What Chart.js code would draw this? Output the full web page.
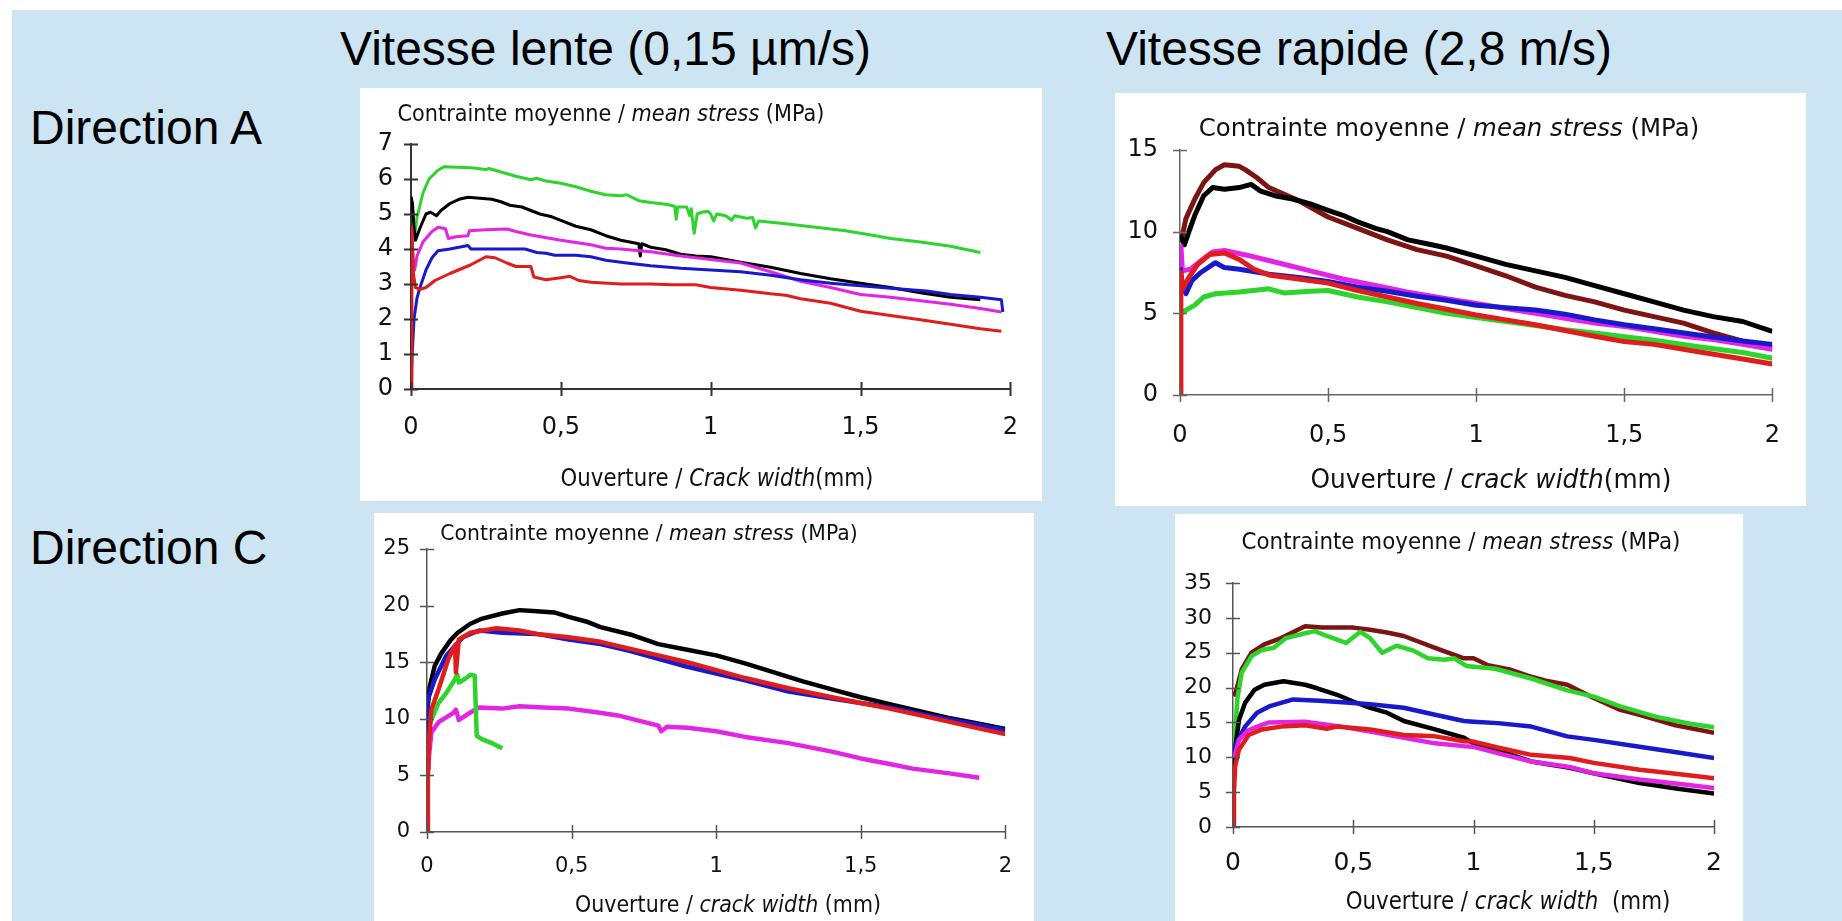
<!DOCTYPE html>
<html>
<head>
<meta charset="utf-8">
<script src="https://cdn.jsdelivr.net/npm/chart.js@4.4.1/dist/chart.umd.min.js"></script>
<style>
  html, body { margin: 0; padding: 0; }
  body { width: 1842px; height: 921px; background: #fff; position: relative; overflow: hidden;
         font-family: "Liberation Sans", Arial, sans-serif; }
  #bg { position: absolute; left: 12px; top: 10px; right: 0; bottom: 0; background: #cde4f3; }
  .panel { position: absolute; background: #fff; }
  .panel canvas { position: absolute; left: 0; top: 0; }
  .head { position: absolute; font-size: 48px; line-height: 1; white-space: nowrap; color: #000; }
  .ct { position: absolute; white-space: nowrap; font-family: "DejaVu Sans", sans-serif; color: #111;
        line-height: 1; transform-origin: center; }
</style>
</head>
<body>
<div id="bg"></div>
<div class="head" style="left:340px;top:25px">Vitesse lente (0,15 µm/s)</div>
<div class="head" style="left:1106px;top:25px">Vitesse rapide (2,8 m/s)</div>
<div class="head" style="left:30px;top:104px">Direction A</div>
<div class="head" style="left:30px;top:524px">Direction C</div>
<div id="charts"></div>

<script>
// ── Tick values ───────────────────────────────────────────
const xTicks      = [0, 0.5, 1, 1.5, 2];
const yTicksSlowA = [0, 1, 2, 3, 4, 5, 6, 7];
const yTicksFastA = [0, 5, 10, 15];
const yTicksSlowC = [0, 5, 10, 15, 20, 25];
const yTicksFastC = [0, 5, 10, 15, 20, 25, 30, 35];

// ── Direction A, slow (crack width mm, stress MPa) ───────
const slowA_green = [[0.005,4.6],[0.012,4.35],[0.02,4.9],[0.04,5.6],[0.06,6.0],[0.09,6.25],[0.11,6.35],[0.2,6.32],[0.25,6.27],[0.26,6.3],[0.3,6.2],[0.35,6.08],[0.4,5.98],[0.42,6.02],[0.45,5.94],[0.5,5.88],[0.55,5.78],[0.6,5.65],[0.65,5.55],[0.7,5.52],[0.72,5.55],[0.76,5.38],[0.8,5.33],[0.85,5.28],[0.88,5.22],[0.885,4.85],[0.89,5.2],[0.92,5.2],[0.93,4.95],[0.935,5.15],[0.945,4.45],[0.955,5.0],[0.97,5.05],[0.99,5.08],[1.0,5.0],[1.01,4.8],[1.02,5.0],[1.05,4.95],[1.07,4.82],[1.08,4.95],[1.12,4.88],[1.14,4.9],[1.15,4.6],[1.16,4.8],[1.25,4.72],[1.35,4.62],[1.45,4.52],[1.55,4.38],[1.6,4.3],[1.7,4.2],[1.8,4.08],[1.9,3.9]];
const slowA_black = [[0,5.5],[0.005,5.3],[0.01,4.6],[0.015,4.25],[0.03,4.6],[0.05,5.0],[0.065,5.05],[0.085,4.95],[0.1,5.1],[0.13,5.3],[0.16,5.42],[0.19,5.48],[0.23,5.45],[0.27,5.42],[0.3,5.35],[0.33,5.25],[0.37,5.2],[0.4,5.1],[0.43,5.0],[0.47,4.92],[0.5,4.82],[0.55,4.65],[0.6,4.55],[0.65,4.38],[0.7,4.25],[0.76,4.15],[0.765,3.8],[0.77,4.15],[0.8,4.05],[0.85,3.98],[0.9,3.85],[0.95,3.8],[1.0,3.78],[1.1,3.62],[1.2,3.48],[1.3,3.3],[1.4,3.15],[1.5,3.02],[1.6,2.9],[1.7,2.75],[1.8,2.62],[1.9,2.55]];
const slowA_magenta = [[0.002,4.6],[0.008,3.6],[0.012,3.4],[0.02,3.8],[0.04,4.2],[0.07,4.5],[0.09,4.62],[0.115,4.58],[0.125,4.3],[0.15,4.35],[0.19,4.38],[0.195,4.52],[0.25,4.55],[0.32,4.57],[0.35,4.5],[0.4,4.4],[0.5,4.25],[0.6,4.12],[0.65,4.02],[0.7,4.0],[0.8,3.92],[0.9,3.8],[1.0,3.7],[1.1,3.6],[1.2,3.35],[1.3,3.08],[1.4,2.9],[1.5,2.7],[1.6,2.62],[1.7,2.52],[1.8,2.42],[1.9,2.3],[1.97,2.2]];
const slowA_blue = [[0,0],[0.004,1.0],[0.01,2.0],[0.02,2.6],[0.03,2.9],[0.05,3.4],[0.07,3.75],[0.09,3.95],[0.13,4.0],[0.19,4.1],[0.2,4.0],[0.3,4.0],[0.38,4.0],[0.42,3.9],[0.45,3.88],[0.48,3.82],[0.55,3.82],[0.6,3.78],[0.65,3.68],[0.72,3.6],[0.8,3.52],[0.9,3.45],[1.0,3.4],[1.1,3.35],[1.2,3.25],[1.3,3.12],[1.4,3.02],[1.5,2.95],[1.6,2.88],[1.72,2.8],[1.8,2.7],[1.9,2.62],[1.97,2.55],[1.975,2.2]];
const slowA_red = [[0,0],[0.003,4.6],[0.008,3.3],[0.015,2.9],[0.03,2.85],[0.05,2.9],[0.08,3.1],[0.13,3.3],[0.2,3.55],[0.25,3.78],[0.28,3.75],[0.32,3.6],[0.35,3.5],[0.4,3.5],[0.41,3.2],[0.45,3.12],[0.5,3.18],[0.53,3.22],[0.56,3.1],[0.6,3.05],[0.7,3.0],[0.8,3.0],[0.87,2.98],[0.95,2.98],[1.0,2.9],[1.1,2.82],[1.2,2.72],[1.25,2.68],[1.3,2.58],[1.4,2.45],[1.5,2.22],[1.6,2.1],[1.7,1.98],[1.8,1.85],[1.9,1.72],[1.97,1.65]];

// ── Direction A, fast ─────────────────────────────────────
const fastA_maroon = [[0.005,9.5],[0.02,10.8],[0.05,12.0],[0.08,13.0],[0.12,13.8],[0.15,14.1],[0.2,14.0],[0.22,13.8],[0.26,13.3],[0.3,12.7],[0.35,12.3],[0.4,11.9],[0.45,11.4],[0.5,10.9],[0.6,10.2],[0.7,9.5],[0.8,8.9],[0.9,8.5],[1.0,7.9],[1.1,7.3],[1.2,6.6],[1.3,6.1],[1.4,5.7],[1.5,5.2],[1.6,4.8],[1.7,4.4],[1.8,3.8],[1.9,3.3],[2.0,2.9]];
const fastA_black = [[0,9.8],[0.015,9.2],[0.03,10.0],[0.05,11.0],[0.08,12.2],[0.11,12.7],[0.15,12.6],[0.2,12.7],[0.24,12.9],[0.27,12.5],[0.32,12.2],[0.38,12.0],[0.44,11.7],[0.5,11.3],[0.55,11.0],[0.6,10.6],[0.66,10.2],[0.7,10.0],[0.77,9.5],[0.85,9.2],[0.9,9.0],[1.0,8.5],[1.1,8.0],[1.2,7.6],[1.3,7.2],[1.4,6.7],[1.5,6.2],[1.6,5.7],[1.7,5.2],[1.8,4.8],[1.9,4.5],[2.0,3.9]];
const fastA_magenta = [[0.003,9.2],[0.008,7.6],[0.035,7.7],[0.07,8.2],[0.11,8.75],[0.15,8.85],[0.24,8.5],[0.33,8.1],[0.44,7.6],[0.55,7.1],[0.66,6.7],[0.77,6.3],[0.9,5.9],[1.0,5.6],[1.1,5.3],[1.2,5.0],[1.3,4.7],[1.4,4.4],[1.5,4.2],[1.6,3.9],[1.7,3.6],[1.8,3.4],[1.9,3.1],[2.0,2.8]];
const fastA_blue = [[0,7.8],[0.008,6.8],[0.02,6.2],[0.04,7.0],[0.07,7.5],[0.12,8.1],[0.15,7.8],[0.2,7.7],[0.3,7.4],[0.4,7.2],[0.5,6.95],[0.6,6.6],[0.7,6.35],[0.8,6.05],[0.9,5.8],[1.0,5.5],[1.1,5.35],[1.2,5.2],[1.3,4.95],[1.4,4.6],[1.5,4.3],[1.6,4.05],[1.75,3.67],[1.9,3.3],[2.0,3.1]];
const fastA_red = [[0,0],[0.003,7.5],[0.01,6.5],[0.03,7.2],[0.06,8.0],[0.1,8.6],[0.15,8.7],[0.2,8.3],[0.25,7.7],[0.3,7.35],[0.4,7.1],[0.5,6.85],[0.6,6.4],[0.7,6.0],[0.8,5.6],[0.9,5.25],[1.0,4.9],[1.1,4.6],[1.2,4.3],[1.3,3.95],[1.4,3.6],[1.5,3.27],[1.6,3.1],[1.75,2.65],[1.9,2.2],[2.0,1.9]];
const fastA_green = [[0.003,5.0],[0.02,5.2],[0.05,5.5],[0.08,6.0],[0.12,6.2],[0.2,6.3],[0.3,6.5],[0.35,6.25],[0.44,6.35],[0.5,6.4],[0.6,6.0],[0.7,5.7],[0.8,5.35],[0.9,5.0],[1.0,4.75],[1.1,4.5],[1.2,4.25],[1.3,4.0],[1.4,3.8],[1.5,3.57],[1.6,3.35],[1.75,2.96],[1.9,2.6],[2.0,2.25]];

// ── Direction C, slow ─────────────────────────────────────
const slowC_black = [[0,10.5],[0.01,12.9],[0.027,14.7],[0.05,15.8],[0.083,17.0],[0.106,17.6],[0.15,18.4],[0.185,18.8],[0.26,19.3],[0.32,19.6],[0.38,19.5],[0.44,19.4],[0.49,19.0],[0.55,18.6],[0.6,18.1],[0.71,17.4],[0.8,16.6],[0.9,16.1],[1.0,15.6],[1.1,14.9],[1.2,14.1],[1.3,13.3],[1.4,12.6],[1.5,11.9],[1.6,11.3],[1.7,10.7],[1.8,10.1],[1.9,9.6],[2.0,9.1]];
const slowC_blue = [[0,8.5],[0.003,11.7],[0.027,13.5],[0.067,15.6],[0.124,17.2],[0.18,17.8],[0.26,17.6],[0.38,17.5],[0.49,17.0],[0.6,16.6],[0.7,16.0],[0.8,15.3],[0.9,14.6],[1.0,14.0],[1.1,13.4],[1.25,12.4],[1.4,11.8],[1.5,11.4],[1.6,11.0],[1.75,10.2],[1.9,9.5],[2.0,9.0]];
const slowC_red = [[0,0],[0.003,4.6],[0.007,8.2],[0.015,10.8],[0.04,12.6],[0.074,15.3],[0.097,16.5],[0.1,14.1],[0.11,17.0],[0.15,17.6],[0.24,18.0],[0.32,17.8],[0.38,17.5],[0.49,17.2],[0.6,16.8],[0.7,16.2],[0.8,15.6],[0.9,15.0],[1.0,14.3],[1.1,13.6],[1.25,12.7],[1.4,11.9],[1.5,11.4],[1.6,10.9],[1.75,10.06],[1.9,9.2],[2.0,8.65]];
const slowC_green = [[0.01,9.5],[0.015,9.9],[0.04,11.4],[0.067,12.3],[0.09,13.2],[0.105,13.9],[0.11,13.2],[0.13,13.5],[0.15,13.9],[0.165,13.8],[0.172,8.5],[0.19,8.2],[0.22,7.9],[0.26,7.4]];
const slowC_magenta = [[0.005,5.5],[0.007,6.7],[0.015,8.8],[0.04,9.7],[0.09,10.5],[0.1,10.8],[0.11,9.9],[0.14,10.4],[0.18,11.0],[0.26,10.9],[0.32,11.1],[0.4,11.0],[0.49,10.9],[0.58,10.6],[0.66,10.3],[0.8,9.4],[0.81,8.9],[0.83,9.3],[0.9,9.2],[1.0,8.9],[1.1,8.4],[1.25,7.85],[1.4,7.1],[1.5,6.5],[1.6,6.0],[1.68,5.6],[1.8,5.2],[1.91,4.8]];

// ── Direction C, fast ─────────────────────────────────────
const fastC_maroon = [[0,19.4],[0.009,19.0],[0.036,22.6],[0.077,25.0],[0.13,26.2],[0.2,27.1],[0.27,28.3],[0.3,28.8],[0.37,28.6],[0.44,28.6],[0.5,28.6],[0.57,28.3],[0.64,27.9],[0.71,27.4],[0.84,25.7],[0.96,24.2],[1.0,24.2],[1.06,23.2],[1.15,22.6],[1.24,21.55],[1.3,21.0],[1.39,20.4],[1.5,18.5],[1.61,16.8],[1.69,16.1],[1.84,14.6],[2.0,13.5]];
const fastC_green = [[0.002,10],[0.004,10.6],[0.018,18.3],[0.036,22.1],[0.077,24.5],[0.12,25.4],[0.17,25.7],[0.22,27.1],[0.3,27.8],[0.34,28.1],[0.39,27.4],[0.47,26.4],[0.53,28.0],[0.57,27.1],[0.62,25.0],[0.68,26.0],[0.75,25.3],[0.81,24.2],[0.88,24.0],[0.92,24.2],[0.97,23.1],[1.09,22.7],[1.24,21.3],[1.39,19.6],[1.5,18.7],[1.61,17.3],[1.76,15.8],[1.9,14.8],[2.0,14.3]];
const fastC_black = [[0.002,8],[0.004,9.9],[0.025,15.4],[0.05,17.8],[0.09,19.7],[0.13,20.4],[0.21,20.9],[0.3,20.4],[0.35,19.9],[0.43,19.0],[0.5,18.0],[0.57,17.1],[0.64,16.4],[0.71,15.2],[0.84,14.0],[0.96,12.8],[1.0,12.0],[1.1,11.0],[1.24,9.4],[1.4,8.5],[1.5,7.7],[1.69,6.3],[1.85,5.5],[2.0,4.8]];
const fastC_blue = [[0.003,10],[0.009,11.6],[0.05,14.4],[0.1,16.4],[0.15,17.3],[0.25,18.3],[0.36,18.1],[0.5,17.8],[0.57,17.6],[0.71,17.1],[0.84,16.1],[0.96,15.2],[1.0,15.1],[1.1,14.9],[1.24,14.4],[1.39,13.0],[1.5,12.5],[1.69,11.5],[1.85,10.7],[2.0,9.9]];
const fastC_red = [[0,0],[0.004,4.9],[0.009,8.7],[0.025,11.1],[0.065,13.2],[0.12,14.0],[0.2,14.4],[0.3,14.6],[0.39,14.1],[0.43,14.4],[0.57,14.0],[0.71,13.2],[0.84,13.0],[0.96,12.3],[1.0,12.25],[1.1,11.4],[1.24,10.35],[1.4,9.9],[1.5,9.2],[1.69,8.2],[1.85,7.6],[2.0,7.0]];
const fastC_magenta = [[0.005,10],[0.025,12.5],[0.06,13.8],[0.1,14.4],[0.15,15.0],[0.3,15.1],[0.36,14.8],[0.45,14.4],[0.57,13.7],[0.71,12.8],[0.84,12.0],[0.96,11.6],[1.0,11.5],[1.1,10.6],[1.24,9.4],[1.4,8.6],[1.5,7.7],[1.69,6.8],[1.85,6.2],[2.0,5.6]];

// ── Colours ───────────────────────────────────────────────
const COLORS = {
  green:   "#2cd42c",
  black:   "#000000",
  magenta: "#e424e4",
  blue:    "#1818cc",
  red:     "#e11c1c",
  maroon:  "#7c1414",
};

const TITLE_HTML = "Contrainte moyenne / <i>mean stress</i> (MPa)";

// ── Panel layout (page px) ────────────────────────────────
// box: [left, top, right, bottom] of white panel
// axis: [x=0 px, x=2 px, y=max px, y=0 px]
const panels = [
  {
    box: [360, 88, 1042, 501], axis: [411, 1023, 144, 389], yTicks: yTicksSlowA,
    lineWidth: 3, axisColor: "#333", axisWidth: 2, yFont: 24, xFont: 24, yPad: 18, xPad: 24,
    series: [["red", slowA_red], ["blue", slowA_blue], ["magenta", slowA_magenta], ["black", slowA_black], ["green", slowA_green]],
    title:  { html: TITLE_HTML, cx: 611, cy: 113, w: 427, size: 23 },
    xtitle: { html: "Ouverture / <i>Crack width</i>(mm)", cx: 717, cy: 478, w: 313, size: 24 },
  },
  {
    box: [1115, 93, 1806, 506], axis: [1180, 1789, 150, 395], yTicks: yTicksFastA,
    lineWidth: 5, axisColor: "#666", axisWidth: 1.5, yFont: 24, xFont: 24, yPad: 22, xPad: 26,
    series: [["red", fastA_red], ["green", fastA_green], ["blue", fastA_blue], ["magenta", fastA_magenta], ["black", fastA_black], ["maroon", fastA_maroon]],
    title:  { html: TITLE_HTML, cx: 1449, cy: 128, w: 500, size: 24 },
    xtitle: { html: "Ouverture / <i>crack width</i>(mm)", cx: 1491, cy: 478, w: 361, size: 27 },
  },
  {
    box: [374, 513, 1034, 921], axis: [427, 1020, 549, 832], yTicks: yTicksSlowC,
    lineWidth: 4.5, axisColor: "#555", axisWidth: 1.5, yFont: 21, xFont: 21, yPad: 17, xPad: 22,
    series: [["red", slowC_red], ["blue", slowC_blue], ["black", slowC_black], ["green", slowC_green], ["magenta", slowC_magenta]],
    title:  { html: TITLE_HTML, cx: 649, cy: 533, w: 417, size: 22 },
    xtitle: { html: "Ouverture / <i>crack width</i> (mm)", cx: 728, cy: 904, w: 306, size: 23 },
  },
  {
    box: [1175, 514, 1743, 921], axis: [1233, 1724, 583, 827], yTicks: yTicksFastC,
    lineWidth: 4.5, axisColor: "#555", axisWidth: 1.5, yFont: 22, xFont: 25, yPad: 21, xPad: 21,
    series: [["red", fastC_red], ["magenta", fastC_magenta], ["blue", fastC_blue], ["black", fastC_black], ["green", fastC_green], ["maroon", fastC_maroon]],
    title:  { html: TITLE_HTML, cx: 1461, cy: 541, w: 439, size: 23 },
    xtitle: { html: "Ouverture / <i>crack width</i>&nbsp;&nbsp;(mm)", cx: 1508, cy: 900, w: 325, size: 25 },
  },
];

const fmt = v => String(v).replace(".", ",");

// ── Ticks that cross the axis lines ───────────────────────
const crossTicks = {
  id: "crossTicks",
  afterDraw(chart, args, opts) {
    const { ctx, chartArea: a, scales: { x, y } } = chart;
    const len = opts.len;
    ctx.save();
    ctx.strokeStyle = opts.color;
    ctx.lineWidth = opts.width;
    ctx.beginPath();
    y.ticks.forEach(t => {
      const py = Math.round(y.getPixelForValue(t.value)) + 0.5;
      ctx.moveTo(a.left - len, py);
      ctx.lineTo(a.left + len, py);
    });
    x.ticks.forEach(t => {
      const px = Math.round(x.getPixelForValue(t.value)) + 0.5;
      ctx.moveTo(px, a.bottom - len);
      ctx.lineTo(px, a.bottom + len);
    });
    ctx.stroke();
    ctx.restore();
  },
};

function addLabel(spec) {
  const el = document.createElement("div");
  el.className = "ct";
  el.style.left = spec.cx + "px";
  el.style.top = spec.cy + "px";
  el.style.fontSize = spec.size + "px";
  el.innerHTML = spec.html;
  document.body.appendChild(el);
  const k = spec.w / el.offsetWidth;
  el.style.transform = `translate(-50%, -50%) scaleX(${k})`;
}

function buildPanel(p) {
  const [L, T, R, B] = p.box;
  const [x0, x2, yTop, y0] = p.axis;
  const div = document.createElement("div");
  div.className = "panel";
  Object.assign(div.style, { left: L + "px", top: T + "px", width: (R - L) + "px", height: (B - T) + "px" });
  const canvas = document.createElement("canvas");
  canvas.width = R - L;
  canvas.height = B - T;
  div.appendChild(canvas);
  document.getElementById("charts").appendChild(div);

  const family = "'DejaVu Sans', sans-serif";
  const yMax = p.yTicks[p.yTicks.length - 1];

  new Chart(canvas, {
    type: "line",
    data: {
      datasets: p.series.map(([c, pts]) => ({
        data: pts.map(([x, y]) => ({ x, y })),
        borderColor: COLORS[c],
        borderWidth: p.lineWidth,
        pointRadius: 0,
        tension: 0,
        borderJoinStyle: "round",
        fill: false,
      })),
    },
    options: {
      responsive: false,
      animation: false,
      devicePixelRatio: 1,
      layout: { padding: { top: yTop - T, right: R - x2, left: 0, bottom: 0 } },
      plugins: {
        legend: { display: false },
        tooltip: { enabled: false },
        crossTicks: { len: 7, color: p.axisColor, width: p.axisWidth },
      },
      scales: {
        x: {
          type: "linear", min: 0, max: 2,
          afterBuildTicks: s => { s.ticks = xTicks.map(v => ({ value: v })); },
          afterFit: s => { s.height = B - y0; },
          ticks: { font: { family, size: p.xFont }, color: "#111", padding: p.xPad, autoSkip: false, maxRotation: 0, callback: v => fmt(v) },
          grid: { drawOnChartArea: false, drawTicks: false },
          border: { color: p.axisColor, width: p.axisWidth },
        },
        y: {
          type: "linear", min: 0, max: yMax,
          afterBuildTicks: s => { s.ticks = p.yTicks.map(v => ({ value: v })); },
          afterFit: s => { s.width = x0 - L; },
          ticks: { font: { family, size: p.yFont }, color: "#111", padding: p.yPad, autoSkip: false, callback: v => fmt(v) },
          grid: { drawOnChartArea: false, drawTicks: false },
          border: { color: p.axisColor, width: p.axisWidth },
        },
      },
    },
    plugins: [crossTicks],
  });

  addLabel(p.title);
  addLabel(p.xtitle);
}

panels.forEach(buildPanel);
</script>
</body>
</html>
